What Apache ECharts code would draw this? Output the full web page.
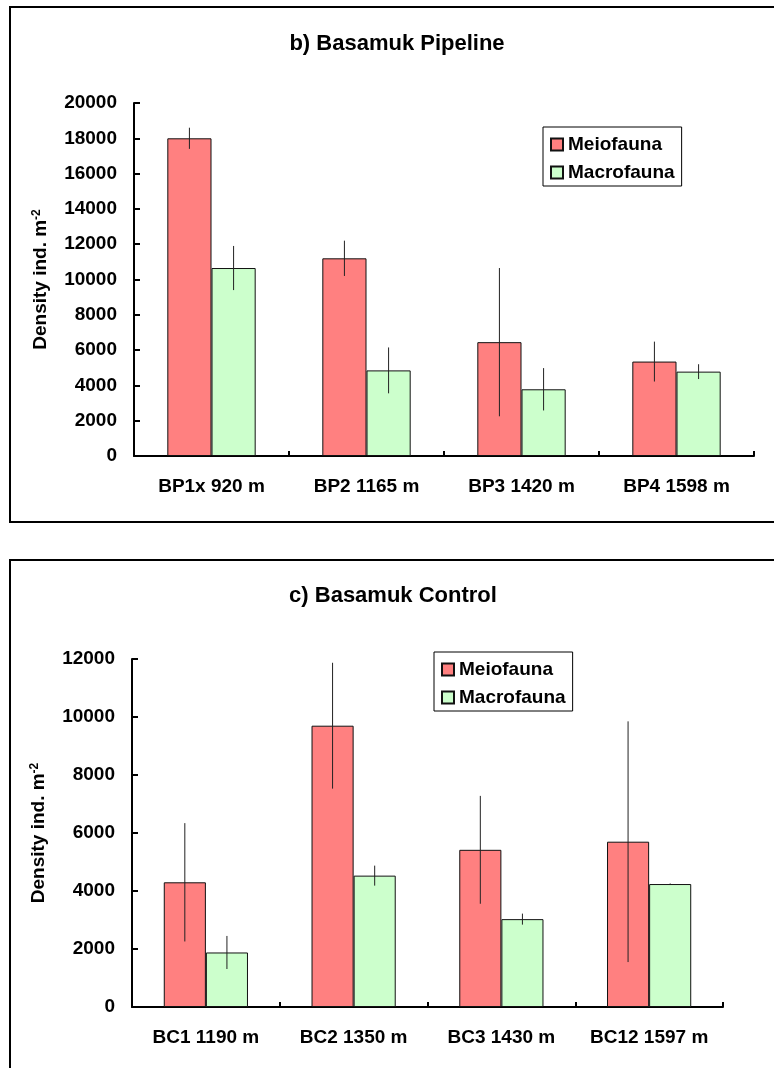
<!DOCTYPE html>
<html>
<head>
<meta charset="utf-8">
<script src="https://cdn.jsdelivr.net/npm/echarts@6/dist/echarts.min.js"></script>
<style>html,body{margin:0;padding:0;background:#fff}#c{width:774px;height:1068px}</style>
</head>
<body>
<div id="c"></div>
<script>
var categoriesB = ['BP1x 920 m', 'BP2 1165 m', 'BP3 1420 m', 'BP4 1598 m'];
var meioB = [18000, 11200, 6450, 5350];
var meioErrB = [600, 1000, 4200, 1130];
var macroB = [10650, 4850, 3780, 4780];
var macroErrB = [1250, 1300, 1200, 420];
var yTicksB = [0, 20000, 2000];

var categoriesC = ['BC1 1190 m', 'BC2 1350 m', 'BC3 1430 m', 'BC12 1597 m'];
var meioC = [4300, 9700, 5420, 5700];
var meioErrC = [2040, 2170, 1860, 4150];
var macroC = [1880, 4530, 3030, 4240];
var macroErrC = [570, 345, 190, 20];
var yTicksC = [0, 12000, 2000];

var FONT = '"Liberation Sans", Arial, sans-serif';
var GAP = 0.43;
var RED = '#FF8080', GREEN = '#CCFFCC';

function errData(vals, errs) {
  return vals.map(function (v, i) { return [i, v, errs[i]]; });
}
function makeErr(side) {
  return function (params, api) {
    var x = api.value(0), v = api.value(1), e = api.value(2);
    var band = api.size([1, 0])[0];
    var bw = band * (1 - GAP) / 2;
    var c = api.coord([x, v]);
    var t = api.coord([x, v + e]);
    var b = api.coord([x, v - e]);
    var cx = c[0] + side * bw / 2;
    return { type: 'line', shape: { x1: cx, y1: t[1], x2: cx, y2: b[1] },
      style: { stroke: '#222', lineWidth: 1 } };
  };
}
function xAxisCfg(cats, gi) {
  return {
    type: 'category', data: cats, gridIndex: gi,
    axisLine: { lineStyle: { color: '#000', width: 2 } },
    axisTick: { show: true, inside: true, length: 5, interval: 0, lineStyle: { color: '#000', width: 2 } },
    axisLabel: { color: '#000', fontSize: 19, fontWeight: 'bold', fontFamily: FONT, margin: 21,
      interval: 0, hideOverlap: false },
    splitLine: { show: false }
  };
}
function yAxisCfg(t, gi) {
  return {
    type: 'value', gridIndex: gi, min: t[0], max: t[1], interval: t[2],
    name: '{a|Density ind. m}{s|-2}', nameLocation: 'middle', nameRotate: 90, nameGap: 84,
    nameTextStyle: { rich: {
      a: { fontSize: 19, fontWeight: 'bold', fontFamily: FONT, color: '#000' },
      s: { fontSize: 12, fontWeight: 'bold', fontFamily: FONT, color: '#000', verticalAlign: 'top' }
    } },
    axisLine: { show: true, lineStyle: { color: '#000', width: 2 } },
    axisTick: { show: true, inside: true, length: 6, lineStyle: { color: '#000', width: 2 } },
    axisLabel: { color: '#000', fontSize: 19, fontWeight: 'bold', fontFamily: FONT, margin: 17,
      formatter: function (v) { return String(v); } },
    splitLine: { show: false }
  };
}
function legendCfg(left, top, ids) {
  return {
    left: left, top: top, orient: 'vertical', data: ['Meiofauna', 'Macrofauna'],
    seriesIndex: ids,
    borderColor: '#000', borderWidth: 1, backgroundColor: '#fff',
    padding: [8, 7, 4, 7], itemGap: 9, itemWidth: 12, itemHeight: 12,
    icon: 'rect',
    textStyle: { color: '#000', fontSize: 19, fontWeight: 'bold', fontFamily: FONT },
    selectedMode: false
  };
}
function barSeries(name, vals, color, xi) {
  return {
    type: 'bar', name: name, data: vals, xAxisIndex: xi, yAxisIndex: xi,
    barGap: 0, barCategoryGap: (GAP * 100) + '%',
    itemStyle: { color: color, borderColor: '#111', borderWidth: 1 },
    emphasis: { disabled: true }
  };
}
function errSeries(vals, errs, side, xi) {
  return {
    type: 'custom', data: errData(vals, errs), xAxisIndex: xi, yAxisIndex: xi,
    renderItem: makeErr(side), z: 5, silent: true
  };
}

var chart = echarts.init(document.getElementById('c'), null, { renderer: 'canvas' });
chart.setOption({
  animation: false,
  backgroundColor: '#fff',
  grid: [
    { left: 134, top: 103, width: 620, height: 353 },
    { left: 132, top: 659, width: 591, height: 348 }
  ],
  xAxis: [xAxisCfg(categoriesB, 0), xAxisCfg(categoriesC, 1)],
  yAxis: [yAxisCfg(yTicksB, 0), yAxisCfg(yTicksC, 1)],
  legend: [legendCfg(543, 127, [0, 1]), legendCfg(434, 652, [4, 5])],
  graphic: [
    { type: 'rect', shape: { x: 10, y: 7, width: 766, height: 515 }, style: { fill: 'none', stroke: '#000', lineWidth: 2 }, silent: true },
    { type: 'rect', shape: { x: 10, y: 560, width: 766, height: 530 }, style: { fill: 'none', stroke: '#000', lineWidth: 2 }, silent: true },
    { type: 'text', x: 397, y: 44, style: { text: 'b) Basamuk Pipeline', align: 'center', verticalAlign: 'middle', font: 'bold 22px ' + FONT, fill: '#000' } },
    { type: 'text', x: 393, y: 596, style: { text: 'c) Basamuk Control', align: 'center', verticalAlign: 'middle', font: 'bold 22px ' + FONT, fill: '#000' } }
  ],
  series: [
    barSeries('Meiofauna', meioB, RED, 0),
    barSeries('Macrofauna', macroB, GREEN, 0),
    errSeries(meioB, meioErrB, -1, 0),
    errSeries(macroB, macroErrB, 1, 0),
    barSeries('Meiofauna', meioC, RED, 1),
    barSeries('Macrofauna', macroC, GREEN, 1),
    errSeries(meioC, meioErrC, -1, 1),
    errSeries(macroC, macroErrC, 1, 1)
  ]
});
</script>
</body>
</html>
